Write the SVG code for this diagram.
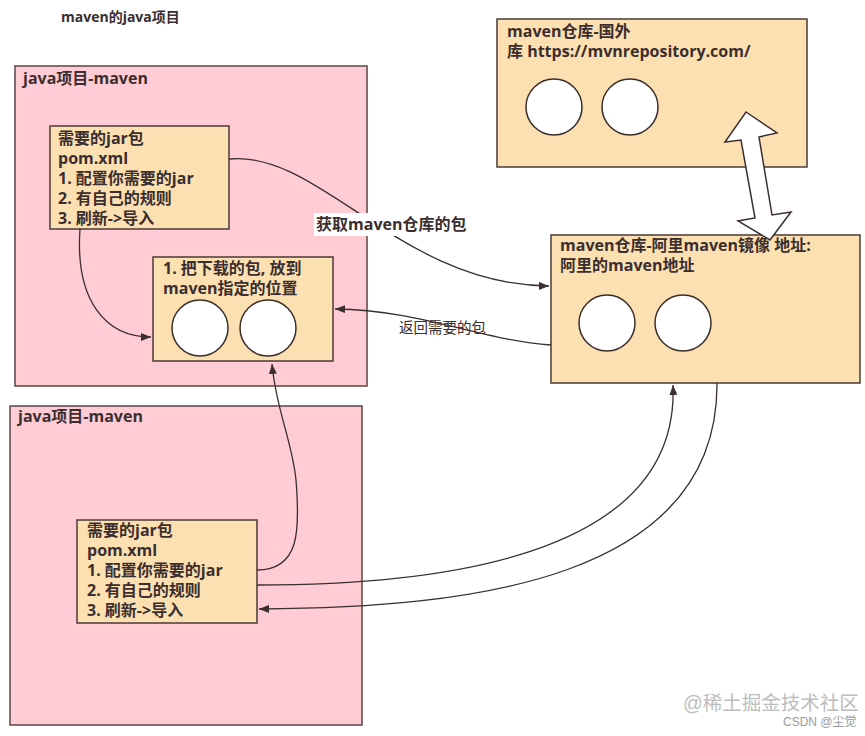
<svg xmlns="http://www.w3.org/2000/svg" width="865" height="736" viewBox="0 0 865 736">
<defs>
<style>
.t{font-family:"Open Sans","Noto Sans CJK SC",sans-serif;font-weight:bold;font-size:16px;fill:#3b2e2e}
.proj{fill:#ffccd5;stroke:#5a4646;stroke-width:1.5}
.box{fill:#fde0b2;stroke:#4a3a36;stroke-width:1.5}
.c{fill:#fff;stroke:#3a2e2a;stroke-width:1.5}
.ln{fill:none;stroke:#3a2e2e;stroke-width:1.3}
</style>
<marker id="ah" markerWidth="10" markerHeight="8" refX="10" refY="4" orient="auto" markerUnits="userSpaceOnUse">
<path d="M0,0 L10,4 L0,8 Z" fill="#3a2e2e"/>
</marker>
</defs>
<rect width="865" height="736" fill="#fff"/>
<text x="61" y="22" class="t" style="font-size:14px">maven的java项目</text>

<g id="proj1">
<rect class="proj" x="15" y="66" width="352" height="320"/>
<text x="23" y="84" class="t">java项目-maven</text>
</g>
<g id="pom1">
<rect class="box" x="50" y="126" width="179" height="103"/>
<text class="t" x="58" y="144">需要的jar包</text>
<text class="t" x="58" y="164">pom.xml</text>
<text class="t" x="58" y="184">1. 配置你需要的jar</text>
<text class="t" x="58" y="204">2. 有自己的规则</text>
<text class="t" x="58" y="224">3. 刷新-&gt;导入</text>
</g>
<g id="local">
<rect class="box" x="153" y="257" width="180" height="104"/>
<text class="t" x="163" y="274">1. 把下载的包, 放到</text>
<text class="t" x="163" y="294">maven指定的位置</text>
<circle class="c" cx="200" cy="328" r="28"/>
<circle class="c" cx="268" cy="328" r="28"/>
</g>
<g id="proj2">
<rect class="proj" x="10" y="406" width="352" height="319"/>
<text x="18" y="422" class="t">java项目-maven</text>
</g>
<g id="pom2">
<rect class="box" x="77" y="520" width="180" height="103"/>
<text class="t" x="87" y="536">需要的jar包</text>
<text class="t" x="87" y="556">pom.xml</text>
<text class="t" x="87" y="576">1. 配置你需要的jar</text>
<text class="t" x="87" y="596">2. 有自己的规则</text>
<text class="t" x="87" y="616">3. 刷新-&gt;导入</text>
</g>
<g id="central">
<rect class="box" x="497" y="19" width="310" height="148"/>
<text class="t" x="507" y="37">maven仓库-国外</text>
<text class="t" x="507" y="57">库 https://mvnrepository.com/</text>
<circle class="c" cx="554" cy="107" r="28"/>
<circle class="c" cx="630" cy="107" r="28"/>
</g>
<g id="aliyun">
<rect class="box" x="551" y="235" width="309" height="148"/>
<text class="t" x="560" y="251">maven仓库-阿里maven镜像 地址:</text>
<text class="t" x="560" y="271">阿里的maven地址</text>
<circle class="c" cx="607" cy="323" r="28"/>
<circle class="c" cx="683" cy="323" r="28"/>
</g>

<g id="connectors">
<path class="ln" d="M229,159 C320,150 400,285 549,286" marker-end="url(#ah)"/>
<rect x="314" y="213" width="153" height="23" fill="#fff"/>
<text class="t" x="316" y="230">获取maven仓库的包</text>
<path class="ln" d="M551,345 C480,340 420,310 335,309" marker-end="url(#ah)"/>
<text x="399" y="333" style="font-family:'Open Sans','Noto Sans CJK SC',sans-serif;font-size:14.5px;fill:#3b2e2e">返回需要的包</text>
<path class="ln" d="M80,229 C75,300 105,337 151,337" marker-end="url(#ah)"/>
<path class="ln" d="M257,570 C300,570 300,530 296,480 C292,440 276,410 272,364" marker-end="url(#ah)"/>
<path class="ln" d="M257,585 C430,585 680,560 673,385" marker-end="url(#ah)"/>
<path class="ln" d="M717,383 C718,580 470,608 259,609" marker-end="url(#ah)"/>
<polygon points="746,112 777,133 759,137 772,215 791,212 770,240 738,221 755,218 741,140 725,142" fill="#fff" stroke="#3a2e2e" stroke-width="1.5" stroke-linejoin="miter"/>
</g>

<text x="683" y="710" style="font-family:'Liberation Sans','Noto Sans CJK SC',sans-serif;font-size:19.5px;fill:#bdbdbd">@稀土掘金技术社区</text>
<text x="783" y="726" style="font-family:'Liberation Sans','Noto Sans CJK SC',sans-serif;font-size:12px;fill:#9a9a9a">CSDN @尘觉</text>
</svg>
